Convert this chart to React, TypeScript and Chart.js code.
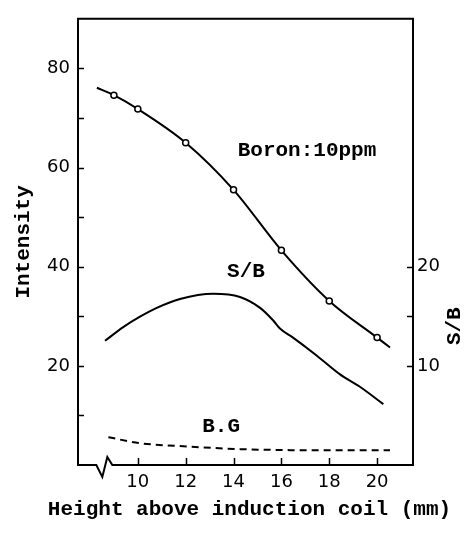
import React, { useEffect, useRef } from "react";
import { Chart, registerables } from "chart.js";

Chart.register(...registerables);

// ---- data ----
const xTicks = [10, 12, 14, 16, 18, 20];
const leftMajorTicks = [20, 40, 60, 80];
const leftMinorTicks = [10, 30, 50, 70];
const rightMajorTicks = [10, 20];
const rightMinorTicks = [15];

const intensityX = [8.29, 9, 10, 12, 14, 16, 18, 20, 20.54];
const intensityY = [76.1, 74.6, 71.8, 65.0, 55.5, 43.3, 33.1, 25.7, 23.7];
const intensityMarker = [false, true, true, true, true, true, true, true, false];

const sbX = [8.63, 9.39, 10.09, 10.79, 11.76, 13.15, 14.27, 15.11, 15.66, 15.94, 16.5, 17.47, 18.45, 19.28, 20.26];
const sbY = [12.53, 13.91, 14.96, 15.85, 16.75, 17.28, 16.95, 15.85, 14.57, 13.76, 12.82, 11.05, 9.14, 7.89, 6.14];

const bgX = [8.77, 10.09, 12.18, 14.27, 16.36, 18.45, 20.54];
const bgY = [5.6, 4.4, 3.7, 3.2, 3.0, 2.95, 3.0];

const xMin = 7.5;
const xMax = 21.5;
const leftMax = 90;
const rightMax = 45;
const axisBreakAt = 8.6;

const labelTexts = ["Boron:10ppm", "S/B", "B.G"];
const labelX = [17.07, 14.52, 13.48];
const labelY = [63.4, 39.0, 7.7];

const xTitle = "Height above induction coil (mm)";
const leftTitle = "Intensity";
const rightTitle = "S/B";
const rightTitleAt = 14.0;

const MONO = "'Liberation Mono', 'DejaVu Sans Mono', monospace";
const SANS = "'DejaVu Sans', sans-serif";

const decor = {
  id: "decor",
  afterDraw(chart: any) {
    const { ctx, chartArea: a, scales } = chart;
    const xs = scales.x;
    const ys = scales.y;
    const y1 = scales.y1;
    ctx.save();
    ctx.strokeStyle = "#000";
    ctx.fillStyle = "#000";
    ctx.lineWidth = 2;
    ctx.lineJoin = "miter";
    const bx = xs.getPixelForValue(axisBreakAt);
    const b = a.bottom;
    ctx.beginPath();
    ctx.moveTo(a.left, a.top);
    ctx.lineTo(a.right, a.top);
    ctx.lineTo(a.right, b);
    ctx.lineTo(bx + 8, b);
    ctx.lineTo(bx + 3, b - 8);
    ctx.lineTo(bx - 2, b + 12);
    ctx.lineTo(bx - 8, b);
    ctx.lineTo(a.left, b);
    ctx.closePath();
    ctx.stroke();

    ctx.lineWidth = 1.5;
    ctx.beginPath();
    for (const v of xTicks) {
      const px = Math.round(xs.getPixelForValue(v)) + 0.5;
      ctx.moveTo(px, b);
      ctx.lineTo(px, b - 7);
    }
    for (const v of [...leftMajorTicks, ...leftMinorTicks]) {
      const py = Math.round(ys.getPixelForValue(v)) + 0.5;
      ctx.moveTo(a.left, py);
      ctx.lineTo(a.left + 6, py);
    }
    for (const v of [...rightMajorTicks, ...rightMinorTicks]) {
      const py = Math.round(y1.getPixelForValue(v)) + 0.5;
      ctx.moveTo(a.right, py);
      ctx.lineTo(a.right - 6, py);
    }
    ctx.stroke();

    ctx.font = `bold 21px ${MONO}`;
    ctx.textAlign = "center";
    ctx.textBaseline = "middle";
    labelTexts.forEach((t, i) => {
      ctx.fillText(t, xs.getPixelForValue(labelX[i]), ys.getPixelForValue(labelY[i]));
    });

    // x-axis title (drawn here so it is not squeezed to the axis width)
    ctx.fillText(xTitle, (a.left + a.right) / 2 + 4, chart.height - 23);

    ctx.save();
    ctx.translate(y1.right - 19, y1.getPixelForValue(rightTitleAt));
    ctx.rotate(-Math.PI / 2);
    ctx.fillText(rightTitle, 0, 0);
    ctx.restore();

    ctx.restore();
  },
};

export default function App() {
  const ref = useRef<HTMLCanvasElement>(null);
  useEffect(() => {
    if (!ref.current) return;
    Chart.defaults.color = "#000";
    const tickFont = { family: SANS, size: 18 };
    const chart = new Chart(ref.current, {
      type: "line",
      data: {
        datasets: [
          {
            label: "Intensity",
            data: intensityX.map((x, i) => ({ x, y: intensityY[i] })),
            yAxisID: "y",
            borderColor: "#000",
            borderWidth: 2,
            pointRadius: intensityMarker.map((m) => (m ? 3 : 0)),
            pointBackgroundColor: "#fff",
            pointBorderColor: "#000",
            pointBorderWidth: 1.5,
            cubicInterpolationMode: "monotone",
            fill: false,
          },
          {
            label: "S/B",
            data: sbX.map((x, i) => ({ x, y: sbY[i] })),
            yAxisID: "y1",
            borderColor: "#000",
            borderWidth: 2,
            pointRadius: 0,
            cubicInterpolationMode: "monotone",
            fill: false,
          },
          {
            label: "B.G",
            data: bgX.map((x, i) => ({ x, y: bgY[i] })),
            yAxisID: "y",
            borderColor: "#000",
            borderWidth: 2,
            borderDash: [7, 5],
            pointRadius: 0,
            cubicInterpolationMode: "monotone",
            fill: false,
          },
        ],
      },
      options: {
        responsive: false,
        animation: false,
        devicePixelRatio: 1,
        layout: { padding: { top: 12, left: 0, right: 0, bottom: 0 } },
        plugins: { legend: { display: false }, tooltip: { enabled: false } },
        scales: {
          x: {
            type: "linear",
            min: xMin,
            max: xMax,
            grid: { display: false, drawTicks: false },
            border: { display: false },
            afterBuildTicks: (s: any) => {
              s.ticks = xTicks.map((v) => ({ value: v }));
            },
            afterFit: (s: any) => {
              s.height = 68;
            },
            ticks: { padding: 7, font: tickFont, color: "#000", maxRotation: 0 },
          },
          y: {
            type: "linear",
            position: "left",
            min: 0,
            max: leftMax,
            grid: { display: false, drawTicks: false },
            border: { display: false },
            afterBuildTicks: (s: any) => {
              s.ticks = leftMajorTicks.map((v) => ({ value: v }));
            },
            afterFit: (s: any) => {
              s.width = 78;
            },
            ticks: { padding: 8, font: tickFont, color: "#000" },
            title: {
              display: true,
              text: leftTitle,
              font: { family: MONO, size: 21, weight: "bold" },
              color: "#000",
              padding: { top: 11, bottom: 0 },
            },
          },
          y1: {
            type: "linear",
            position: "right",
            min: 0,
            max: rightMax,
            grid: { display: false, drawTicks: false },
            border: { display: false },
            afterBuildTicks: (s: any) => {
              s.ticks = rightMajorTicks.map((v) => ({ value: v }));
            },
            afterFit: (s: any) => {
              s.width = 61;
            },
            ticks: { padding: 4, font: tickFont, color: "#000" },
          },
        },
      },
      plugins: [decor],
    } as any);
    return () => chart.destroy();
  }, []);
  return (
    <div style={{ position: "fixed", left: 0, top: 0, width: 474, height: 533, background: "#fff" }}>
      <canvas ref={ref} width={474} height={533} style={{ display: "block" }} />
    </div>
  );
}
